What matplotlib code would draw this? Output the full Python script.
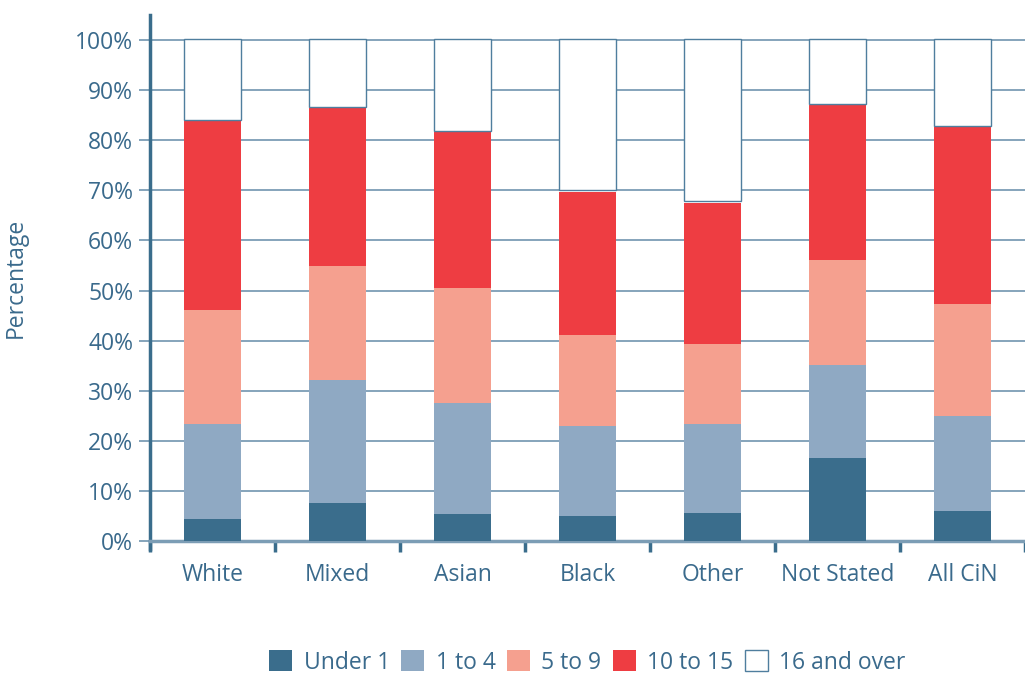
import matplotlib.pyplot as plt
import numpy as np

categories = ["White", "Mixed", "Asian", "Black", "Other", "Not Stated", "All CiN"]
under_1 = [4.4, 7.6, 5.4, 5.0, 5.6, 16.6, 6.0]
age_1_4 = [19.0, 24.5, 22.1, 18.0, 17.8, 18.5, 18.9]
age_5_9 = [22.7, 22.8, 23.0, 18.1, 15.9, 21.0, 22.4]
age_10_15 = [37.7, 31.5, 31.1, 28.6, 28.2, 30.9, 35.3]
age_16_over = [16.2, 13.6, 18.4, 30.3, 32.5, 13.0, 17.4]

series = [under_1, age_1_4, age_5_9, age_10_15, age_16_over]
labels = ["Under 1", "1 to 4", "5 to 9", "10 to 15", "16 and over"]
colors = ["#3a6d8c", "#8fa9c3", "#f5a08f", "#ee3d42", "white"]

TXT = "#3a6a8c"
FS = 16.5
plt.rcParams['font.family'] = ['Open Sans', 'DejaVu Sans']

fig = plt.figure(figsize=(10.25, 6.73), dpi=100)
ax = fig.add_axes([150/1025, 132/673, 875/1025, 526/673])

x = np.arange(len(categories))
bottom = np.zeros(len(categories))
for vals, lab, col in zip(series, labels, colors):
    if col == "white":
        ax.bar(x, vals, 0.45, bottom=bottom + 0.3, color=col, edgecolor="#4f7e9e",
               linewidth=1.0, label=lab, zorder=3)
    else:
        ax.bar(x, vals, 0.45, bottom=bottom, color=col, label=lab, zorder=3)
    bottom += np.array(vals)

ax.set_xlim(-0.5, len(categories) - 0.5)
ax.set_ylim(0, 105)
ax.set_yticks(np.arange(0, 101, 10))
ax.set_yticklabels([f"{v}%" for v in range(0, 101, 10)], fontsize=FS, color=TXT)
ax.yaxis.grid(True, color="#7c9db5", linewidth=1.3, zorder=0)
ax.tick_params(axis="y", length=8, width=1.3, color="#7c9db5", pad=4)

ax.set_xticks(x)
ax.set_xticklabels(categories, fontsize=FS, color=TXT)
ax.set_xticks(np.arange(-0.5, len(categories)), minor=True)
ax.tick_params(axis="x", which="major", length=0, pad=16)
ax.tick_params(axis="x", which="minor", length=8, width=2.5, color="#3a6d8c")

for s in ["top", "right"]:
    ax.spines[s].set_visible(False)
ax.spines["left"].set_color("#3a6d8c")
ax.spines["left"].set_linewidth(2.5)
ax.spines["left"].set_bounds(-1.5, 105)
ax.spines["bottom"].set_color("#7c9db5")
ax.spines["bottom"].set_linewidth(2.5)

ax.set_ylabel("Percentage", fontsize=FS, color=TXT)
ax.yaxis.set_label_coords(-0.14, 0.5)

fig.legend(loc="lower center", ncol=5, bbox_to_anchor=(0.573, -0.033), frameon=False,
           fontsize=FS, labelcolor=TXT, handlelength=1.0, handleheight=1.0,
           handletextpad=0.5, columnspacing=0.5)

fig.savefig("out.png", dpi=100)
